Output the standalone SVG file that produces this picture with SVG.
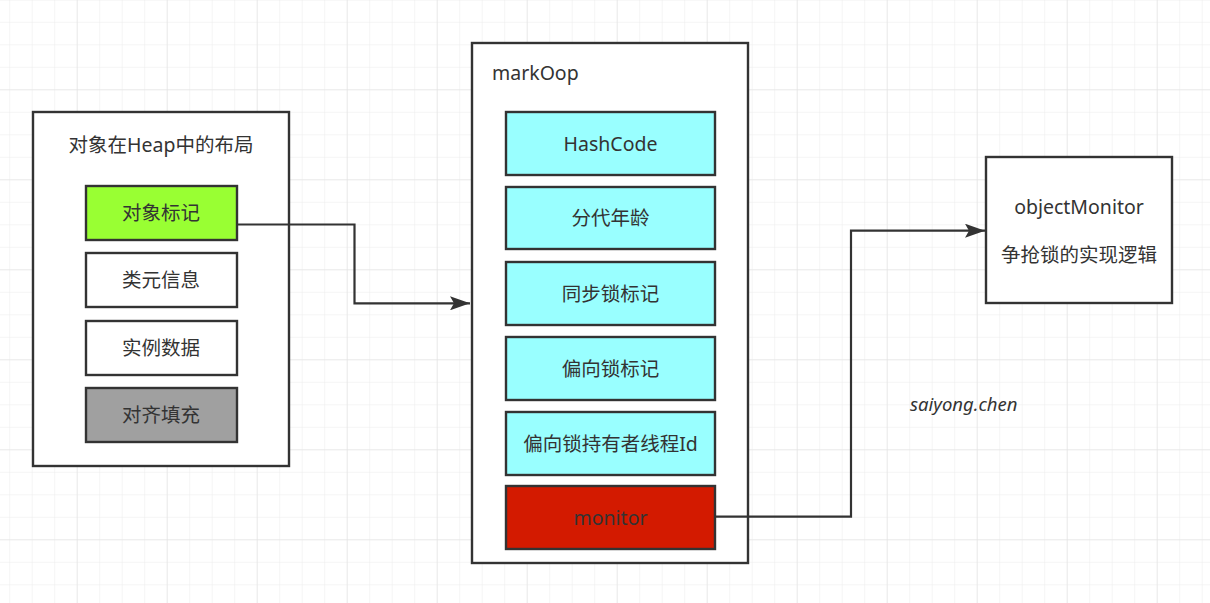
<svg xmlns="http://www.w3.org/2000/svg" width="1210" height="603" viewBox="0 0 1210 603">
  <defs>
    <pattern id="minor" x="9.2" y="-0.7" width="22.5" height="22.5" patternUnits="userSpaceOnUse">
      <path d="M0 0 V22.5 M0 0 H22.5" fill="none" stroke="#ececec" stroke-width="1"/>
    </pattern>
    <pattern id="major" x="76.7" y="89.3" width="90" height="90" patternUnits="userSpaceOnUse">
      <path d="M0 0 V90 M0 0 H90" fill="none" stroke="#e0e0e0" stroke-width="1"/>
    </pattern>
    <marker id="arrow" viewBox="0 0 20 14" refX="20" refY="7" markerWidth="20" markerHeight="14" markerUnits="userSpaceOnUse" orient="auto">
      <path d="M0 0 L20 7 L0 14 L4 7 Z" fill="#333333"/>
    </marker>
    <style>
      .box { stroke: #333333; stroke-width: 2.4; }
      .t { font-family: "Noto Sans", "Noto Sans CJK SC", sans-serif; font-size: 19.5px; fill: #333333; }
      .c { text-anchor: middle; }
      .conn { fill: none; stroke: #333333; stroke-width: 2.2; }
    </style>
  </defs>
  <rect width="1210" height="603" fill="#ffffff"/>
  <rect width="1210" height="603" fill="url(#minor)"/>
  <rect width="1210" height="603" fill="url(#major)"/>

  <g id="heap">
    <rect class="box" x="33" y="112" width="256" height="354" fill="#ffffff"/>
    <text class="t c" x="161" y="152">对象在Heap中的布局</text>
  </g>
  <g id="obj-mark">
    <rect class="box" x="86" y="186" width="151" height="54" fill="#99ff33"/>
    <text class="t c" x="161" y="220">对象标记</text>
  </g>
  <g id="class-meta">
    <rect class="box" x="86" y="253" width="151" height="54" fill="#ffffff"/>
    <text class="t c" x="161" y="287">类元信息</text>
  </g>
  <g id="instance-data">
    <rect class="box" x="86" y="321" width="151" height="54" fill="#ffffff"/>
    <text class="t c" x="161" y="355">实例数据</text>
  </g>
  <g id="padding">
    <rect class="box" x="86" y="388" width="151" height="54" fill="#a0a0a0"/>
    <text class="t c" x="161" y="422">对齐填充</text>
  </g>

  <g id="markOop">
    <rect class="box" x="472" y="43" width="276" height="520" fill="#ffffff"/>
    <text class="t" x="492" y="80">markOop</text>
  </g>
  <g id="hashcode">
    <rect class="box" x="506" y="112" width="209" height="63" fill="#99ffff"/>
    <text class="t c" x="610.5" y="151">HashCode</text>
  </g>
  <g id="age">
    <rect class="box" x="506" y="187" width="209" height="62" fill="#99ffff"/>
    <text class="t c" x="610.5" y="225">分代年龄</text>
  </g>
  <g id="sync-lock">
    <rect class="box" x="506" y="262" width="209" height="63" fill="#99ffff"/>
    <text class="t c" x="610.5" y="301">同步锁标记</text>
  </g>
  <g id="biased-lock">
    <rect class="box" x="506" y="337" width="209" height="63" fill="#99ffff"/>
    <text class="t c" x="610.5" y="376">偏向锁标记</text>
  </g>
  <g id="biased-owner">
    <rect class="box" x="506" y="412" width="209" height="63" fill="#99ffff"/>
    <text class="t c" x="610.5" y="451">偏向锁持有者线程Id</text>
  </g>
  <g id="monitor">
    <rect class="box" x="506" y="486" width="209" height="63" fill="#d31a00"/>
    <text class="t c" x="610.5" y="525">monitor</text>
  </g>

  <g id="objectMonitor">
    <rect class="box" x="986" y="157" width="186" height="146" fill="#ffffff"/>
    <text class="t c" x="1079" y="214">objectMonitor</text>
    <text class="t c" x="1079" y="262">争抢锁的实现逻辑</text>
  </g>

  <g id="connectors">
    <path class="conn" d="M237 224.5 H354.5 V303.3 H470" marker-end="url(#arrow)"/>
    <path class="conn" d="M715 516.7 H851 V230.7 H985" marker-end="url(#arrow)"/>
  </g>

  <text x="910" y="411" style="font-family: 'Noto Sans', 'Open Sans', sans-serif; font-size: 18.5px; font-style: italic; fill: #333333;">saiyong.chen</text>
</svg>
